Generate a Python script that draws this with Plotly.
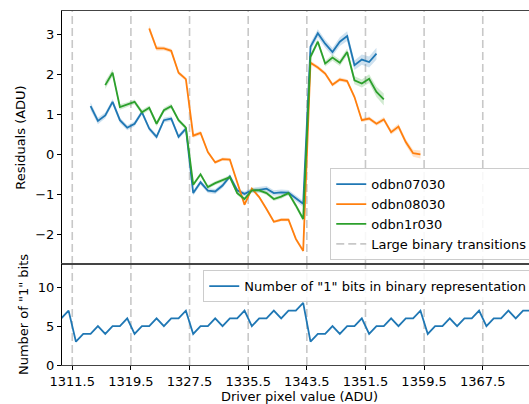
"""Residuals around binary transitions and bit counts, rebuilt with Plotly."""
import plotly.graph_objects as go
from plotly.subplots import make_subplots

# --- data ---
x_07030 = list(range(1314, 1354))
res_07030 = [1.21, 0.84, 0.98, 1.32, 0.86, 0.67, 0.77, 1.06, 0.65, 0.44,
             0.86, 0.90, 0.44, 0.65, -0.97, -0.70, -0.91, -0.93, -0.78, -0.55,
             -0.90, -0.99, -0.90, -0.89, -0.86, -0.97, -0.95, -0.96, -1.10, -1.24,
             2.70, 3.04, 2.78, 2.57, 2.83, 2.97, 2.24, 2.38, 2.32, 2.53]
err_07030 = [0.10, 0.08, 0.07, 0.07, 0.07, 0.06, 0.06, 0.06, 0.06, 0.06,
             0.06, 0.06, 0.06, 0.06, 0.06, 0.06, 0.06, 0.06, 0.06, 0.06,
             0.06, 0.06, 0.06, 0.07, 0.07, 0.07, 0.07, 0.07, 0.08, 0.08,
             0.10, 0.10, 0.10, 0.10, 0.11, 0.12, 0.12, 0.13, 0.14, 0.15]

x_08030 = list(range(1322, 1360))
res_08030 = [3.16, 2.66, 2.66, 2.60, 2.05, 1.89, 0.47, 0.54, 0.06, -0.20,
             -0.12, -0.13, -0.70, -1.26, -0.86, -1.07, -1.37, -1.69, -1.64, -1.64,
             -2.12, -2.42, 2.30, 2.18, 2.03, 1.75, 1.88, 1.84, 1.44, 0.86,
             0.90, 0.77, 0.88, 0.56, 0.70, 0.31, 0.03, 0.00]
err_08030 = [0.08, 0.06, 0.05, 0.05, 0.05, 0.05, 0.05, 0.05, 0.04, 0.04,
             0.04, 0.04, 0.04, 0.04, 0.04, 0.04, 0.04, 0.04, 0.04, 0.04,
             0.05, 0.05, 0.05, 0.05, 0.05, 0.05, 0.05, 0.05, 0.05, 0.05,
             0.05, 0.05, 0.06, 0.06, 0.07, 0.08, 0.09, 0.10]

x_1r030 = list(range(1316, 1355))
res_1r030 = [1.74, 2.05, 1.19, 1.25, 1.32, 1.06, 1.17, 0.77, 1.11, 1.21,
             0.86, 0.67, -0.76, -0.50, -0.82, -0.72, -0.65, -0.57, -0.97, -1.12,
             -0.90, -0.90, -0.97, -1.12, -1.06, -0.97, -1.28, -1.62, 2.45, 2.83,
             2.28, 2.43, 2.30, 2.57, 1.86, 1.78, 1.90, 1.57, 1.38]
err_1r030 = [0.10, 0.09, 0.07, 0.06, 0.06, 0.06, 0.06, 0.06, 0.06, 0.06,
             0.05, 0.05, 0.05, 0.05, 0.05, 0.05, 0.05, 0.05, 0.05, 0.05,
             0.05, 0.05, 0.05, 0.05, 0.05, 0.05, 0.06, 0.06, 0.07, 0.07,
             0.07, 0.08, 0.08, 0.09, 0.10, 0.10, 0.11, 0.13, 0.15]

x_bits = list(range(1310, 1376))
n_bits = [6, 7,
          3, 4, 4, 5, 4, 5, 5, 6,
          4, 5, 5, 6, 5, 6, 6, 7,
          4, 5, 5, 6, 5, 6, 6, 7,
          5, 6, 6, 7, 6, 7, 7, 8,
          3, 4, 4, 5, 4, 5, 5, 6,
          4, 5, 5, 6, 5, 6, 6, 7,
          4, 5, 5, 6, 5, 6, 6, 7,
          5, 6, 6, 7, 6, 7, 7, 8]

transitions = [1311.5, 1319.5, 1327.5, 1335.5, 1343.5, 1351.5, 1359.5, 1367.5]

series = [
    ("odbn07030", x_07030, res_07030, err_07030, "#1f77b4", "rgba(31,119,180,0.22)"),
    ("odbn08030", x_08030, res_08030, err_08030, "#ff7f0e", "rgba(255,127,14,0.22)"),
    ("odbn1r030", x_1r030, res_1r030, err_1r030, "#2ca02c", "rgba(44,160,44,0.22)"),
]

FONT = "DejaVu Sans"
FS = 13

fig = make_subplots(rows=2, cols=1, shared_xaxes=True, vertical_spacing=0,
                    row_heights=[253, 101])

for name, xs, ys, es, color, band in series:
    upper = [y + e for y, e in zip(ys, es)]
    lower = [y - e for y, e in zip(ys, es)]
    fig.add_trace(go.Scatter(x=xs + xs[::-1], y=upper + lower[::-1], fill="toself",
                             fillcolor=band, line=dict(width=0), hoverinfo="skip",
                             showlegend=False), row=1, col=1)
    fig.add_trace(go.Scatter(x=xs, y=ys, mode="lines", name=name,
                             line=dict(color=color, width=1.8), legend="legend"),
                  row=1, col=1)

# legend entry for the dashed transition lines
fig.add_trace(go.Scatter(x=[None], y=[None], mode="lines", name="Large binary transitions",
                         line=dict(color="#c8c8c8", width=1.6, dash="8px,4px"),
                         legend="legend"), row=1, col=1)

fig.add_trace(go.Scatter(x=x_bits, y=n_bits, mode="lines",
                         name='Number of "1" bits in binary representation',
                         line=dict(color="#1f77b4", width=1.8), legend="legend2"),
              row=2, col=1)

for t in transitions:
    for r in (1, 2):
        fig.add_vline(x=t, line=dict(color="#c8c8c8", width=1.6, dash="8px,4px"),
                      layer="below", row=r, col=1)

axis_common = dict(showgrid=False, zeroline=False, showline=True, mirror=True,
                   ticks="outside", ticklen=4, tickcolor="black",
                   tickfont=dict(family=FONT, size=FS, color="black"))
title_font = dict(family=FONT, size=FS, color="black")

fig.update_xaxes(range=[1310.1, 1374.9], linecolor="#444", **axis_common)
fig.update_xaxes(showticklabels=False, ticks="", row=1, col=1)
fig.update_xaxes(tickvals=transitions, tickformat=".1f", row=2, col=1,
                 title=dict(text="Driver pixel value (ADU)", standoff=3, font=title_font))

fig.update_yaxes(linecolor="black", **axis_common)
fig.update_yaxes(range=[-2.75, 3.6], tickvals=[-2, -1, 0, 1, 2, 3], row=1, col=1,
                 title=dict(text="Residuals (ADU)", standoff=6, font=title_font))
fig.update_yaxes(range=[0, 13], tickvals=[0, 5, 10], row=2, col=1,
                 title=dict(text='Number of "1" bits', standoff=6, font=title_font))

legend_style = dict(xanchor="right", x=0.99, bgcolor="rgba(255,255,255,0.85)",
                    bordercolor="#cccccc", borderwidth=1, itemwidth=30,
                    font=dict(family=FONT, size=FS, color="black"))

# axes run a bit past the right edge of the window, like the cropped original
fig.update_layout(
    width=537, height=404,
    margin=dict(l=62, r=0, t=11, b=39),
    plot_bgcolor="white", paper_bgcolor="white",
    font=dict(family=FONT, size=FS, color="black"),
    legend=dict(yanchor="bottom", y=0.296, tracegroupgap=0, **legend_style),
    legend2=dict(yanchor="top", y=0.268, **legend_style),
)

# drop the default page margin so the figure sits at the window corner
fig.write_html("out.html", config={"displayModeBar": False},
               post_script="document.body.style.margin='0';"
                           "document.body.style.overflow='hidden';")
